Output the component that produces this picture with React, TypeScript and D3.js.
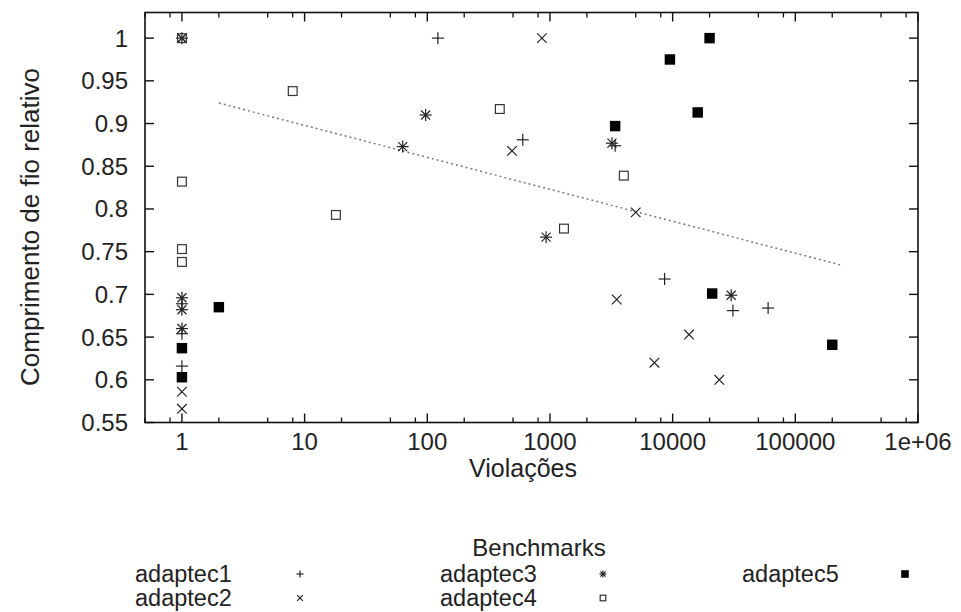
import React from "react";
import * as d3 from "d3";

type Pt = [number, number];

const adaptec1: Pt[] = [[122, 1.0], [600, 0.881], [3400, 0.874], [8600, 0.718], [31000, 0.681], [60000, 0.684], [1, 0.689], [1, 0.654], [1, 0.616]];
const adaptec2: Pt[] = [[1, 1.0], [860, 1.0], [490, 0.868], [5000, 0.796], [3500, 0.694], [13600, 0.653], [7100, 0.62], [24000, 0.6], [1, 0.586], [1, 0.566]];
const adaptec3: Pt[] = [[1, 1.0], [97, 0.91], [63, 0.873], [3200, 0.877], [930, 0.767], [30000, 0.699], [1, 0.696], [1, 0.682], [1, 0.66]];
const adaptec4: Pt[] = [[1, 1.0], [8, 0.938], [1, 0.832], [18, 0.793], [390, 0.917], [4000, 0.839], [1300, 0.777], [1, 0.753], [1, 0.738]];
const adaptec5: Pt[] = [[20000, 1.0], [9500, 0.975], [16000, 0.913], [3400, 0.897], [2, 0.685], [1, 0.637], [1, 0.603], [21000, 0.701], [200000, 0.641]];
const trend: Pt[] = [[2, 0.924], [240000, 0.734]];

const xTickValues = [1, 10, 100, 1000, 10000, 100000, 1000000];
const xTickLabels = ["1", "10", "100", "1000", "10000", "100000", "1e+06"];
const xMinorMultipliers = [2, 5, 8];
const yTickValues = [0.55, 0.6, 0.65, 0.7, 0.75, 0.8, 0.85, 0.9, 0.95, 1.0];
const yTickLabels = ["0.55", "0.6", "0.65", "0.7", "0.75", "0.8", "0.85", "0.9", "0.95", "1"];

const seriesNames = ["adaptec1", "adaptec2", "adaptec3", "adaptec4", "adaptec5"];
const seriesData = [adaptec1, adaptec2, adaptec3, adaptec4, adaptec5];

const FONT = "'Liberation Sans', Arial, sans-serif";
const L = 145, R = 918, T = 12.5, B = 422.5;

function Marker({ kind, x, y, s }: { kind: number; x: number; y: number; s: number }) {
  const h = s / 2;
  const stroke = "#222";
  if (kind === 0) {
    return (
      <g stroke={stroke} strokeWidth={1.2}>
        <line x1={x - h} y1={y} x2={x + h} y2={y} />
        <line x1={x} y1={y - h} x2={x} y2={y + h} />
      </g>
    );
  }
  if (kind === 1) {
    const d = h * 0.8;
    return (
      <g stroke={stroke} strokeWidth={1.2}>
        <line x1={x - d} y1={y - d} x2={x + d} y2={y + d} />
        <line x1={x - d} y1={y + d} x2={x + d} y2={y - d} />
      </g>
    );
  }
  if (kind === 2) {
    const d = h * 0.75;
    return (
      <g stroke={stroke} strokeWidth={1.2}>
        <line x1={x - h} y1={y} x2={x + h} y2={y} />
        <line x1={x} y1={y - h} x2={x} y2={y + h} />
        <line x1={x - d} y1={y - d} x2={x + d} y2={y + d} />
        <line x1={x - d} y1={y + d} x2={x + d} y2={y - d} />
      </g>
    );
  }
  if (kind === 3) {
    const q = h * 0.8;
    return <rect x={x - q} y={y - q} width={2 * q} height={2 * q} fill="none" stroke="#333" strokeWidth={1.2} />;
  }
  const q = h * 0.95;
  return <rect x={x - q} y={y - q} width={2 * q} height={2 * q} fill="#000" />;
}

export default function App() {
  const x = d3.scaleLog().domain([0.5, 1e6]).range([L, R]);
  const y = d3.scaleLinear().domain([0.55, 1.03]).range([B, T]);

  const minor: number[] = [];
  for (let e = -1; e < 6; e++) {
    for (const m of xMinorMultipliers) {
      const v = m * Math.pow(10, e);
      if (v >= 0.5 && v < 1e6) minor.push(v);
    }
  }

  const line = d3.line<Pt>().x((d) => x(d[0])).y((d) => y(d[1]));

  const legendCols = [135, 440, 742];
  const legendSym = [300, 603, 905];
  const legendRows = [574, 598];

  return (
    <svg width={961} height={612} style={{ position: "absolute", left: 0, top: 0, background: "#fff" }} fontFamily={FONT}>
      <rect width={961} height={612} fill="#fff" />
      <path d={line(trend) || ""} fill="none" stroke="#7a7a7a" strokeWidth={1.5} strokeDasharray="2,3" />

      <rect x={L} y={T} width={R - L} height={B - T} fill="none" stroke="#111" strokeWidth={1.6} />

      {xTickValues.map((v, i) => (
        <g key={"xt" + i}>
          <line x1={x(v)} x2={x(v)} y1={B} y2={B - 9} stroke="#111" strokeWidth={1.4} />
          <line x1={x(v)} x2={x(v)} y1={T} y2={T + 9} stroke="#111" strokeWidth={1.4} />
          <text x={x(v)} y={441} textAnchor="middle" dominantBaseline="central" fontSize={24} fill="#222">
            {xTickLabels[i]}
          </text>
        </g>
      ))}
      {minor.map((v, i) => (
        <g key={"xm" + i}>
          <line x1={x(v)} x2={x(v)} y1={B} y2={B - 5} stroke="#111" strokeWidth={1.3} />
          <line x1={x(v)} x2={x(v)} y1={T} y2={T + 5} stroke="#111" strokeWidth={1.3} />
        </g>
      ))}

      {yTickValues.map((v, i) => (
        <g key={"yt" + i}>
          <line x1={L} x2={L + 9} y1={y(v)} y2={y(v)} stroke="#111" strokeWidth={1.4} />
          <line x1={R} x2={R - 9} y1={y(v)} y2={y(v)} stroke="#111" strokeWidth={1.4} />
          <text x={128} y={y(v)} textAnchor="end" dominantBaseline="central" fontSize={24} fill="#222">
            {yTickLabels[i]}
          </text>
        </g>
      ))}

      {seriesData.map((data, si) =>
        data.map((d, i) => (
          <Marker key={si + "-" + i} kind={si} x={x(d[0])} y={y(d[1])} s={si === 4 ? 11 : si === 3 ? 11 : 12} />
        ))
      )}

      <text x={523} y={468} textAnchor="middle" dominantBaseline="central" fontSize={25} fill="#222">
        Violações
      </text>
      <text transform="translate(30,227) rotate(-90)" textAnchor="middle" dominantBaseline="central" fontSize={26} fill="#222">
        Comprimento de fio relativo
      </text>

      <text x={539} y={547} textAnchor="middle" dominantBaseline="central" fontSize={24} fill="#222">
        Benchmarks
      </text>
      {seriesNames.map((n, i) => {
        const col = Math.floor(i / 2);
        const row = i % 2;
        return (
          <g key={n}>
            <text x={legendCols[col]} y={legendRows[row]} dominantBaseline="central" fontSize={23.5} fill="#222">
              {n}
            </text>
            <Marker kind={i} x={legendSym[col]} y={legendRows[row]} s={i === 4 ? 8 : 7} />
          </g>
        );
      })}
    </svg>
  );
}
